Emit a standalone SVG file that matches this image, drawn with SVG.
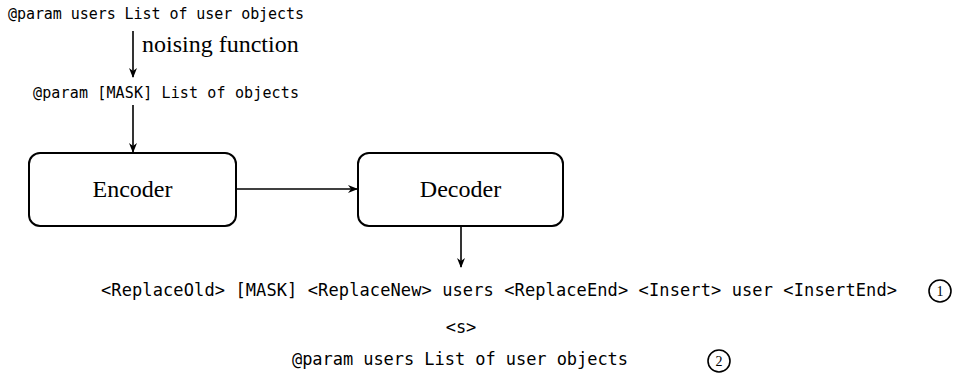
<svg xmlns="http://www.w3.org/2000/svg" width="955" height="375" viewBox="0 0 955 375">
<defs>
<marker id="ah" markerWidth="10" markerHeight="8" refX="9" refY="4" orient="auto" markerUnits="userSpaceOnUse">
<path d="M0,0 L10,4 L0,8 L3,4 Z" fill="#000"/>
</marker>
<style>
.mono{font-family:"DejaVu Sans Mono",monospace;fill:#000}
.serif{font-family:"Liberation Serif",serif;font-size:24px;fill:#000}
.box{fill:#fff;stroke:#000;stroke-width:2}
.edge{stroke:#000;stroke-width:1.6;fill:none;marker-end:url(#ah)}
.circ{fill:none;stroke:#000;stroke-width:1.6}
.num{font-family:"Liberation Serif",serif;font-size:14px;fill:#000;text-anchor:middle}
</style>
</defs>
<rect width="955" height="375" fill="#fff"/>
<g id="input">
<text class="mono" x="8" y="19" font-size="15" textLength="296">@param users List of user objects</text>
</g>
<g id="noised">
<text class="mono" x="33" y="98" font-size="15" textLength="266">@param [MASK] List of objects</text>
</g>
<g id="encoder">
<rect class="box" x="29" y="153" width="207" height="73" rx="11"/>
<text class="serif" x="132.5" y="197" text-anchor="middle">Encoder</text>
</g>
<g id="decoder">
<rect class="box" x="358" y="153" width="205" height="73" rx="11"/>
<text class="serif" x="460.5" y="197" text-anchor="middle">Decoder</text>
</g>
<g id="output1">
<text class="mono" x="101" y="296" font-size="17" textLength="796">&lt;ReplaceOld&gt; [MASK] &lt;ReplaceNew&gt; users &lt;ReplaceEnd&gt; &lt;Insert&gt; user &lt;InsertEnd&gt;</text>
<circle class="circ" cx="940" cy="291" r="11"/>
<text class="num" x="940" y="296">1</text>
</g>
<g id="sep">
<text class="mono" x="461" y="333" font-size="17" text-anchor="middle">&lt;s&gt;</text>
</g>
<g id="output2">
<text class="mono" x="292" y="365" font-size="17" textLength="336">@param users List of user objects</text>
<circle class="circ" cx="719" cy="361" r="11"/>
<text class="num" x="719" y="366">2</text>
</g>
<g id="connectors">
<line class="edge" x1="133" y1="31" x2="133" y2="77"/>
<text class="serif" x="142" y="52">noising function</text>
<line class="edge" x1="133" y1="105" x2="133" y2="152"/>
<line class="edge" x1="236" y1="189" x2="357" y2="189"/>
<line class="edge" x1="461" y1="226" x2="461" y2="267"/>
</g>
</svg>
